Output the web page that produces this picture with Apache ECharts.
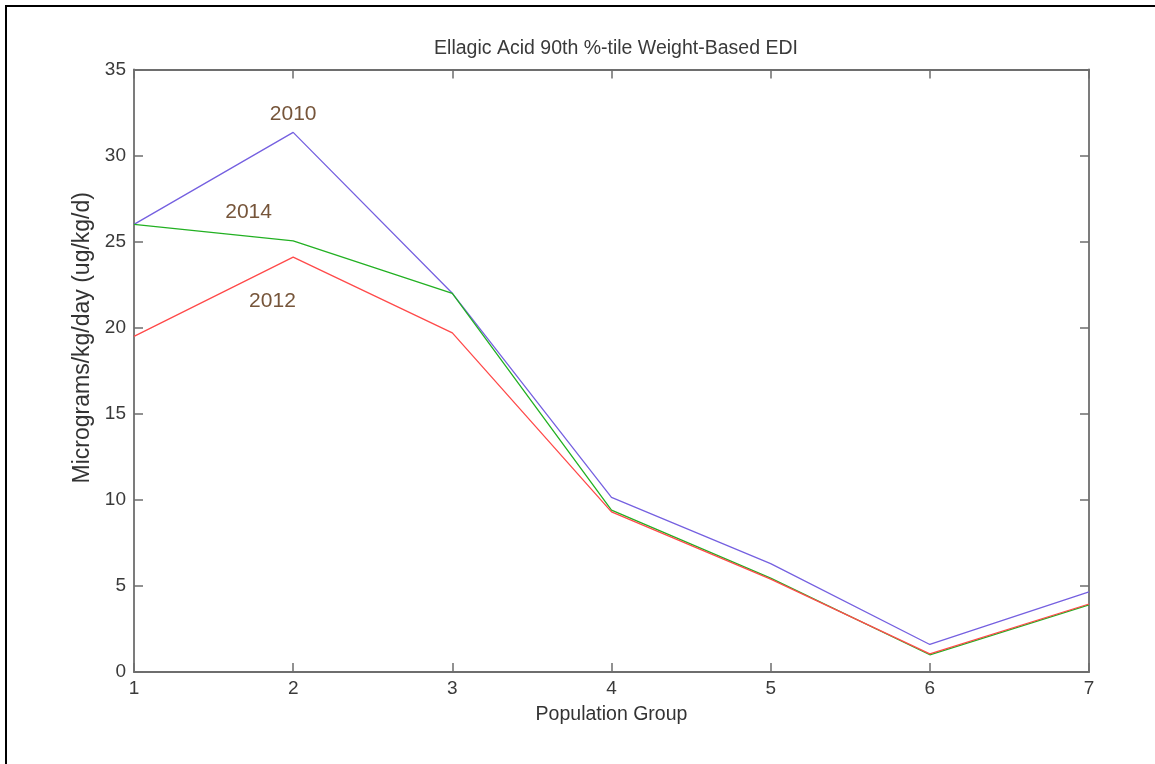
<!DOCTYPE html>
<html>
<head>
<meta charset="utf-8">
<script src="https://cdn.jsdelivr.net/npm/echarts@6/dist/echarts.min.js"></script>
<style>
  html, body { margin: 0; padding: 0; background: #fff; }
  #chart { width: 1155px; height: 764px; position: relative; }
  #frame { position: absolute; left: 5px; top: 5px; width: 1160px; height: 770px;
           border-left: 2px solid #000; border-top: 2px solid #000; pointer-events: none; }
</style>
</head>
<body>
<div id="chart"></div>
<div id="frame"></div>
<script>
// Population groups 1..7
const groups = [1, 2, 3, 4, 5, 6, 7];

// 90th percentile weight-based EDI (ug/kg/day) per survey year
const edi2010 = [26.0, 31.35, 22.0, 10.15, 6.3, 1.6, 4.65];
const edi2012 = [19.5, 24.1, 19.7, 9.3, 5.4, 1.05, 3.95];
const edi2014 = [26.0, 25.05, 22.0, 9.4, 5.45, 1.0, 3.9];

const yTicks = [0, 5, 10, 15, 20, 25, 30, 35];

// Year annotations placed in data space [group, value]
const yearLabels = [
  { name: '2010', coord: [2.0, 32.4] },
  { name: '2014', coord: [1.72, 26.7] },
  { name: '2012', coord: [1.87, 21.55] }
];

const pairs = arr => groups.map((g, i) => [g, arr[i]]);

const axisGray = '#6e6e6e';
const font = 'Liberation Sans, Arial, sans-serif';

const chart = echarts.init(document.getElementById('chart'), null, { renderer: 'canvas' });

const tick = { show: true, inside: true, length: 9, lineStyle: { color: axisGray, width: 1.5 } };
const line = { show: true, onZero: false, lineStyle: { color: axisGray, width: 1.8 } };

const baseX = {
  type: 'value', min: groups[0], max: groups[groups.length - 1], interval: 1,
  axisLine: line, axisTick: tick, splitLine: { show: false }
};
const baseY = {
  type: 'value', min: yTicks[0], max: yTicks[yTicks.length - 1], interval: 5,
  axisLine: line, axisTick: tick, splitLine: { show: false }
};

chart.setOption({
  animation: false,
  backgroundColor: '#fff',
  title: {
    text: 'Ellagic Acid 90th %-tile Weight-Based EDI',
    left: 611, top: 34, textAlign: 'center',
    textStyle: { fontFamily: font, fontSize: 19.5, fontWeight: 'normal', color: '#3a3a3a' }
  },
  grid: { left: 134, right: 66, top: 69.5, bottom: 92 },
  xAxis: [
    Object.assign({}, baseX, {
      position: 'bottom',
      name: 'Population Group', nameLocation: 'middle', nameGap: 33,
      nameTextStyle: { fontFamily: font, fontSize: 19.5, color: '#333' },
      axisLabel: { show: true, margin: 7, fontFamily: font, fontSize: 19, color: '#3a3a3a' }
    }),
    Object.assign({}, baseX, { position: 'top', axisLabel: { show: false } })
  ],
  yAxis: [
    Object.assign({}, baseY, {
      position: 'left',
      name: 'Micrograms/kg/day (ug/kg/d)', nameLocation: 'middle', nameGap: 37, nameRotate: 90,
      nameTextStyle: { fontFamily: font, fontSize: 23, color: '#333', padding: [0, 0, 0, 66] },
      axisLabel: { show: true, margin: 8, fontFamily: font, fontSize: 19, color: '#3a3a3a' }
    }),
    Object.assign({}, baseY, { position: 'right', axisLabel: { show: false } })
  ],
  series: [
    {
      name: '2010', type: 'line', data: pairs(edi2010), symbol: 'none',
      lineStyle: { color: '#7560e0', width: 1.3 },
      markPoint: {
        symbol: 'rect', symbolSize: 1,
        itemStyle: { color: 'rgba(0,0,0,0)' },
        label: { show: true, position: 'inside', formatter: p => p.name,
                 fontFamily: font, fontSize: 21, color: '#76553a' },
        data: yearLabels.map(d => ({ name: d.name, coord: d.coord }))
      }
    },
    {
      name: '2014', type: 'line', data: pairs(edi2014), symbol: 'none',
      lineStyle: { color: '#22b022', width: 1.3 }
    },
    {
      name: '2012', type: 'line', data: pairs(edi2012), symbol: 'none',
      lineStyle: { color: '#ff4a4a', width: 1.3 }
    }
  ]
});
</script>
</body>
</html>
